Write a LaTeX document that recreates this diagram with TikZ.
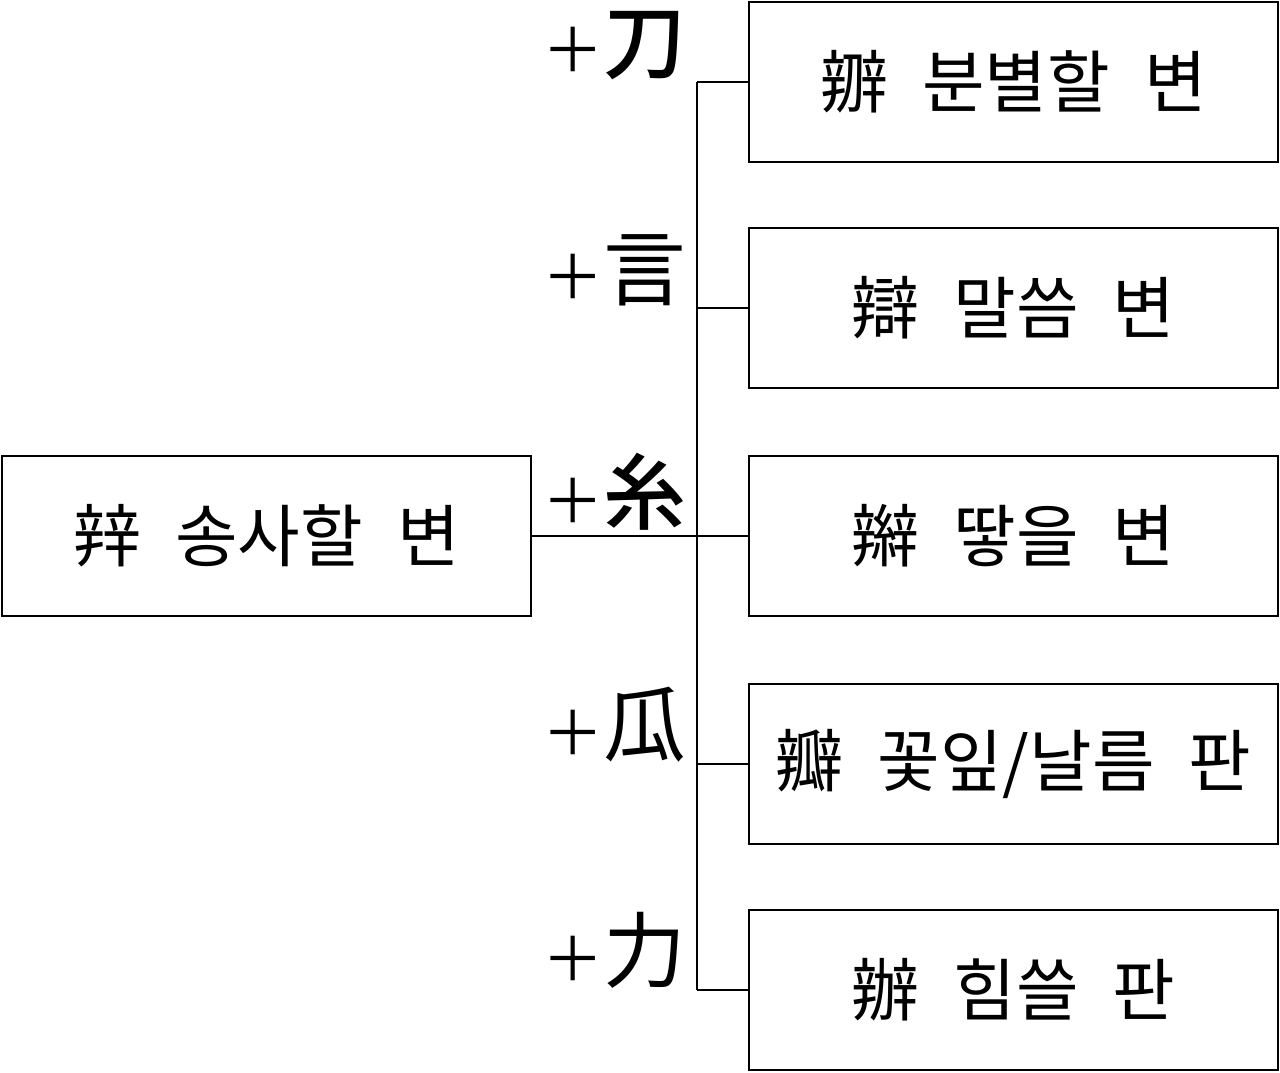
\documentclass[tikz,border=0pt]{standalone}
\usepackage{fontspec}
\setmainfont{Noto Sans CJK KR}
\newfontfamily\krb{Noto Sans CJK KR Medium}
\newcommand{\gap}{\hspace{0.5em}}
\newcommand{\pl}{{\fontsize{46}{50}\selectfont ＋}}
\begin{document}
\begin{tikzpicture}[x=0.75pt,y=-0.75pt,line width=2.2pt,
  box/.style={draw,minimum width=529*0.75pt,minimum height=160*0.75pt,inner sep=0pt,font=\fontsize{51}{54}\selectfont},
  lab/.style={anchor=east,inner sep=0pt,font=\fontsize{62}{66}\selectfont}]
\useasboundingbox (0,0) rectangle (1280,1072);
\node[box] (s) at (266.5,536) {辡\gap 송사할\gap 변};
\node[box] (a) at (1013.5,82) {辧\gap 분별할\gap 변};
\node[box] (b) at (1013.5,308) {辯\gap 말씀\gap 변};
\node[box] (c) at (1013.5,536) {辮\gap 땋을\gap 변};
\node[box] (d) at (1013.5,764) {瓣\gap 꽃잎/날름\gap 판};
\node[box] (e) at (1013.5,990) {辦\gap 힘쓸\gap 판};
\coordinate (j) at (697,536);
\coordinate (ta) at (697,82);
\coordinate (te) at (697,990);
\draw (s.east) -- (j);
\draw (ta) -- (te);
\foreach \n in {a,b,c,d,e} \draw (j |- \n.west) -- (\n.west);
\node[lab] (la) at (688,46) {\pl{\krb 刀}};
\node[lab] (lb) at (688,270) {\pl 言};
\node[lab] (lc) at (688,492) {\pl{\krb 糸}};
\node[lab] (ld) at (688,725) {\pl 瓜};
\node[lab] (le) at (688,950) {\pl 力};
\end{tikzpicture}
\end{document}
